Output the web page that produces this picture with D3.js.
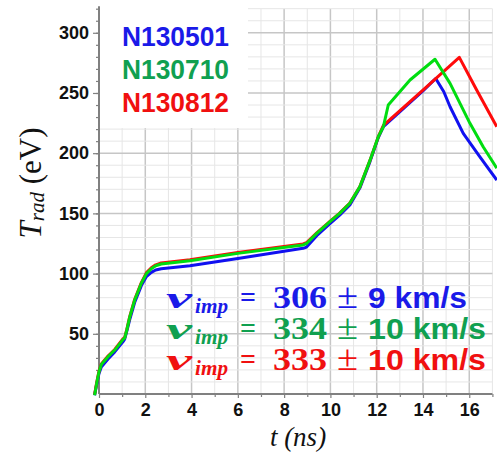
<!DOCTYPE html>
<html lang="en">
<head>
    <meta charset="UTF-8">
    <title>Trad vs time</title>
    <script src="https://d3js.org/d3.v7.min.js"></script>
    <style>
        body { margin: 0; background: #fff; }
        svg { display: block; }
    </style>
</head>
<body>
    <div id="chart"></div>

    <script>
        // series (t in ns, Trad in eV)
        const tBlue = [-0.19, -0.1, 0, 0.1, 0.39, 0.68, 1.04, 1.11, 1.2, 1.33, 1.54, 1.83, 2.05, 2.26, 2.45, 2.69, 3.93, 6.0, 8.82, 8.97, 9.41, 9.98, 10.4, 10.84, 11.27, 11.71, 12.07, 12.29, 14.01, 14.55, 14.9, 15.17, 15.74, 16.46, 17.19];
        const vBlue = [-1, 8, 17, 22.5, 29, 35, 43.5, 45.5, 52, 62, 76, 90, 97.5, 101, 103, 104, 106.6, 112.5, 121, 122, 131.5, 141.5, 148.5, 157, 171, 193, 213, 222, 252, 262, 251, 238.6, 216.5, 197, 177.7];

        const tGreen = [-0.19, -0.1, 0, 0.1, 0.39, 0.68, 1.04, 1.11, 1.2, 1.33, 1.54, 1.83, 2.05, 2.26, 2.45, 2.69, 3.93, 6.0, 8.82, 8.97, 9.41, 9.98, 10.4, 10.84, 11.27, 11.71, 12.07, 12.29, 12.5, 13.44, 14.52, 15.17, 16.03, 16.6, 17.19];
        const vGreen = [-1, 9, 18.5, 24.5, 31, 36.5, 45.4, 46.5, 53, 64, 78, 92, 100, 104, 106.5, 108, 110.7, 116.8, 123.8, 125, 133.4, 143.1, 150, 158.4, 172, 194, 213.7, 222, 240, 260.8, 278, 258, 224.8, 205.4, 187.5];

        const tRed = [-0.19, -0.1, 0, 0.1, 0.39, 0.68, 1.04, 1.11, 1.2, 1.33, 1.54, 1.83, 2.05, 2.26, 2.45, 2.69, 3.93, 6.0, 8.82, 8.97, 9.41, 9.98, 10.4, 10.84, 11.27, 11.71, 12.07, 12.29, 14.01, 15.57, 16.32, 17.19];
        const vRed = [-0.5, 9.5, 19, 25, 31.5, 37, 46, 47, 53.5, 64.5, 78.5, 92.5, 100.8, 104.8, 107.3, 108.8, 111.5, 117.6, 124.6, 125.8, 133.8, 143.4, 150.2, 158.6, 172, 194, 213.7, 223, 252.5, 279.6, 252.5, 222];

        const shots = ["N130501", "N130710", "N130812"];
        const speeds = ["306", "334", "333"];
        const errors = ["9", "10", "10"];

        const xTicks = [0, 2, 4, 6, 8, 10, 12, 14, 16];
        const yTicks = [50, 100, 150, 200, 250, 300];

        const W = 497, H = 453;
        const lineColors = ["#1010f0", "#00dd10", "#ff0a0a"];
        const textColors = ["#1a1ae8", "#10a050", "#f01010"];

        const x = d3.scaleLinear().domain([0, 17]).range([99, 492.4]);
        const y = d3.scaleLinear().domain([0, 320]).range([394, 8.7]);

        const svg = d3.select("#chart").append("svg")
            .attr("width", W).attr("height", H);

        // grid: minor then major
        const grid = svg.append("g");
        grid.selectAll(".vmin").data(d3.range(0, 18, 1)).enter().append("line")
            .attr("x1", d => x(d)).attr("x2", d => x(d))
            .attr("y1", y(320)).attr("y2", y(0))
            .attr("stroke", d => d % 2 === 0 ? "#c6c6c6" : "#e6e6e6")
            .attr("stroke-width", d => d % 2 === 0 ? 1.5 : 1);
        grid.selectAll(".hmin").data(d3.range(10, 330, 10)).enter().append("line")
            .attr("x1", x(0)).attr("x2", x(17))
            .attr("y1", d => y(d)).attr("y2", d => y(d))
            .attr("stroke", d => d % 50 === 0 ? "#c6c6c6" : "#e6e6e6")
            .attr("stroke-width", d => d % 50 === 0 ? 1.5 : 1);

        // white box behind the shot names
        svg.append("rect")
            .attr("x", 100).attr("y", 8).attr("width", 148).attr("height", 120)
            .attr("fill", "#fff");

        // axes
        const yAxis = svg.append("g").attr("transform", `translate(${x(0)},0)`)
            .call(d3.axisLeft(y).tickValues(yTicks).tickSize(6).tickPadding(4));
        svg.append("g").attr("transform", `translate(${x(0)},0)`)
            .call(d3.axisLeft(y).tickValues(d3.range(10, 330, 10)).tickSize(3).tickFormat(""))
            .call(g => g.select(".domain").remove());
        yAxis.select(".domain").attr("d", `M0,${y(0)}V${y(322)}`);

        const xAxis = svg.append("g").attr("transform", `translate(0,${y(0)})`)
            .call(d3.axisBottom(x).tickValues(xTicks).tickSize(4).tickPadding(5));
        svg.append("g").attr("transform", `translate(0,${y(0)})`)
            .call(d3.axisBottom(x).tickValues(d3.range(1, 18, 2)).tickSize(3).tickFormat(""))
            .call(g => g.select(".domain").remove());
        xAxis.select(".domain").attr("d", `M${x(0)},0H${x(17)}`);

        svg.selectAll(".domain").attr("stroke", "#808080").attr("stroke-width", 2);
        svg.selectAll(".tick line").attr("stroke", "#808080").attr("stroke-width", 1.2);
        svg.selectAll(".tick text")
            .attr("fill", "#111")
            .style("font-family", "'Liberation Sans', Arial, sans-serif")
            .style("font-weight", "bold")
            .style("font-size", "18px");

        // curves
        const line = d3.line().x(d => x(d[0])).y(d => y(d[1]));
        const series = [
            { t: tBlue, v: vBlue, c: lineColors[0] },
            { t: tRed, v: vRed, c: lineColors[2] },
            { t: tGreen, v: vGreen, c: lineColors[1] }
        ];
        series.forEach(s => {
            svg.append("path")
                .datum(s.t.map((t, i) => [t, s.v[i]]))
                .attr("d", line)
                .attr("fill", "none")
                .attr("stroke", s.c)
                .attr("stroke-width", 3)
                .attr("stroke-linejoin", "round");
        });

        // shot names
        svg.selectAll(".shot").data(shots).enter().append("text")
            .attr("x", 122).attr("y", (d, i) => 46 + i * 33)
            .attr("fill", (d, i) => textColors[i])
            .attr("textLength", 107).attr("lengthAdjust", "spacingAndGlyphs")
            .style("font-family", "'Liberation Sans', Arial, sans-serif")
            .style("font-weight", "bold")
            .style("font-size", "27px")
            .text(d => d);

        // impact velocities
        const serif = "'Liberation Serif', 'Times New Roman', serif";
        const sans = "'Liberation Sans', Arial, sans-serif";
        speeds.forEach((sp, i) => {
            const by = 308 + i * 31;
            const g = svg.append("g").attr("fill", textColors[i]);
            g.append("text").attr("x", 166).attr("y", by)
                .attr("textLength", 26).attr("lengthAdjust", "spacingAndGlyphs")
                .style("font-family", serif).style("font-style", "italic").style("font-weight", "bold")
                .style("font-size", "30px").text("v");
            g.append("text").attr("x", 195).attr("y", by + 5)
                .attr("textLength", 33).attr("lengthAdjust", "spacingAndGlyphs")
                .style("font-family", serif).style("font-style", "italic").style("font-weight", "bold")
                .style("font-size", "21px").text("imp");
            g.append("text").attr("x", 240).attr("y", by - 1)
                .attr("textLength", 16).attr("lengthAdjust", "spacingAndGlyphs")
                .style("font-family", serif).style("font-weight", "bold")
                .style("font-size", "30px").text("=");
            g.append("text").attr("x", 273).attr("y", by)
                .attr("textLength", 54).attr("lengthAdjust", "spacingAndGlyphs")
                .style("font-family", serif).style("font-weight", "bold")
                .style("font-size", "32px").text(sp);
            g.append("text").attr("x", 337).attr("y", by)
                .attr("textLength", 21).attr("lengthAdjust", "spacingAndGlyphs")
                .style("font-family", serif)
                .style("font-size", "36px").text("±");
            g.append("text").attr("x", 368).attr("y", by)
                .attr("textLength", i === 0 ? 99 : 118).attr("lengthAdjust", "spacingAndGlyphs")
                .style("font-family", sans).style("font-weight", "bold")
                .style("font-size", "29px").text(`${errors[i]} km/s`);
        });

        // axis titles
        const yl = svg.append("text")
            .attr("transform", "translate(41,183) rotate(-90)")
            .attr("text-anchor", "middle")
            .attr("fill", "#111")
            .style("font-family", "'Liberation Serif', 'Times New Roman', serif")
            .style("font-size", "31px");
        yl.append("tspan").style("font-style", "italic").text("T");
        yl.append("tspan").style("font-style", "italic").style("font-size", "21px").attr("dy", 3).text("rad");
        yl.append("tspan").attr("dy", -3).text(" (eV)");

        svg.append("text")
            .attr("x", 298).attr("y", 446)
            .attr("text-anchor", "middle")
            .attr("fill", "#111")
            .style("font-family", "'Liberation Serif', 'Times New Roman', serif")
            .style("font-style", "italic")
            .style("font-size", "27px")
            .text("t (ns)");
    </script>
</body>
</html>
